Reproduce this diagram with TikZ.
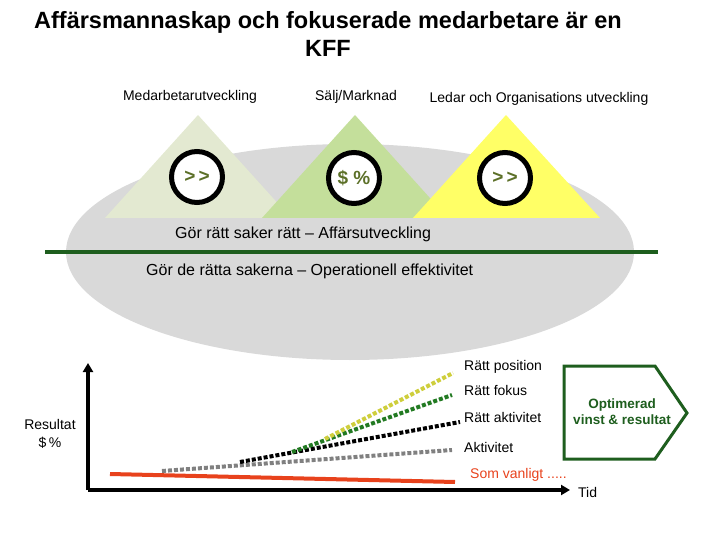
\documentclass[tikz,border=0pt]{standalone}
\usepackage{fontspec}
\setmainfont{Liberation Sans}
\usetikzlibrary{arrows.meta, positioning}
\definecolor{ovalgray}{RGB}{217,217,217}
\definecolor{sage}{RGB}{227,233,209}
\definecolor{leaf}{RGB}{196,223,155}
\definecolor{lemon}{RGB}{255,255,102}
\definecolor{forest}{RGB}{30,94,30}
\definecolor{olive}{RGB}{92,112,40}
\definecolor{rust}{RGB}{232,66,28}
\definecolor{mustard}{RGB}{206,206,60}
\definecolor{dotgreen}{RGB}{34,122,34}
\definecolor{dotgray}{RGB}{128,128,128}

\begin{document}
\begin{tikzpicture}[x=1pt, y=-1pt,
    lbl/.style={font=\fontsize{14}{16}\selectfont, inner sep=0pt},
    ring/.style={circle, draw=black, line width=5pt, fill=white, minimum size=51pt,
                 inner sep=0pt, text=olive, font=\fontsize{19}{21}\selectfont\bfseries},
    trend/.style={line width=4pt, dash pattern=on 4pt off 2pt},
    axis/.style={line width=4pt, -{Triangle[length=9pt, width=10pt]}}]
    \useasboundingbox (0,0) rectangle (720,540);

    % Title
    \node[font=\fontsize{23.5}{28}\selectfont\bfseries, align=center] (title) at (328,34)
        {Affärsmannaskap och fokuserade medarbetare är en\\KFF};

    % Oval and triangles
    \fill[ovalgray] (350,252) ellipse [x radius=284, y radius=108];
    \fill[sage] (105,218) -- (198,115) -- (291,218) -- cycle;
    \fill[leaf] (262,218) -- (355,115) -- (448,218) -- cycle;
    \fill[lemon] (413,218) -- (506,115) -- (600,218) -- cycle;

    \node[lbl] (medarb) at (190,97) {Medarbetarutveckling};
    \node[lbl] (salj) at (356,97) {Sälj/Marknad};
    \node[lbl] (ledar) at (539,99) {Ledar och Organisations utveckling};

    \node[ring] (c1) at (197,177) {>\,>};
    \node[ring] (c2) at (354,178) {\$\;\%};
    \node[ring] (c3) at (505,178) {>\,>};

    % Two levels
    \node[lbl, font=\fontsize{16}{18}\selectfont, anchor=west] (affar) at (175,234)
        {Gör rätt saker rätt -- Affärsutveckling};
    \coordinate (split1) at (45,252);
    \coordinate (split2) at (658,252);
    \draw[forest, line width=4pt] (split1) -- (split2);
    \node[lbl, font=\fontsize{16}{18}\selectfont, anchor=west] (oper) at (146,271)
        {Gör de rätta sakerna -- Operationell effektivitet};

    % Chart
    \coordinate (origin) at (88,490);
    \coordinate (ytop) at (88,363);
    \coordinate (xend) at (570,490);
    \draw[axis] (origin) -- (ytop);
    \draw[axis] (origin) -- (xend);
    \node[lbl, anchor=west] (tid) at (578,492) {Tid};
    \node[lbl] (resultat) at (50,424) {Resultat};
    \node[lbl] (dollar) at (50,443) {\$\,\%};

    \draw[rust, line width=4pt] (110,474) -- (455,482);
    \draw[trend, dotgray] (162,471) -- (452,450);
    \draw[trend, black] (240,462) -- (460,422);
    \draw[trend, dotgreen] (292,452) -- (452,395);
    \draw[trend, mustard] (325,439) -- (453,373);

    \node[lbl, anchor=west] (pos) at (464,367) {Rätt position};
    \node[lbl, anchor=west] (fokus) at (464,390) {Rätt fokus};
    \node[lbl, anchor=west] (ratt) at (464,417) {Rätt aktivitet};
    \node[lbl, anchor=west] (akt) at (464,447) {Aktivitet};
    \node[lbl, anchor=west, text=rust] (vanligt) at (470,475) {Som vanligt .....};

    % Outcome arrow
    \draw[forest, line width=3pt, line join=miter]
        (564,366) -- (655,366) -- (687,413) -- (655,459) -- (564,459) -- cycle;
    \node[align=center, text=forest, font=\fontsize{13.5}{16}\selectfont\bfseries] (optim) at (622,412)
        {Optimerad\\vinst \& resultat};
\end{tikzpicture}
\end{document}
